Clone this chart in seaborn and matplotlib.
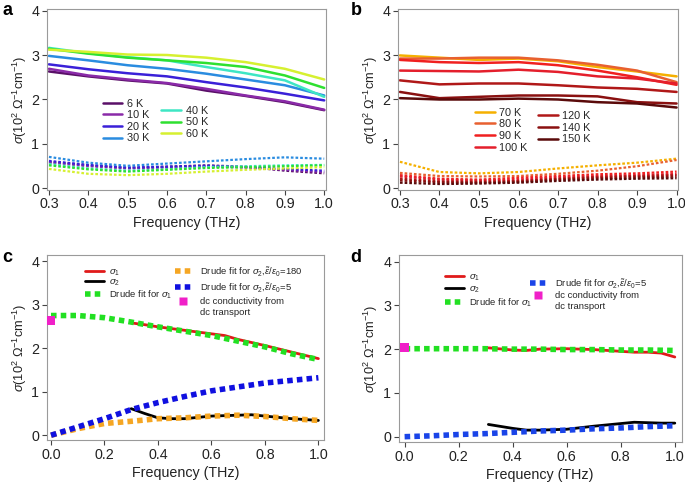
import numpy as np
import pandas as pd
import matplotlib
matplotlib.use('Agg')
import matplotlib.pyplot as plt
from matplotlib.lines import Line2D
import seaborn as sns

# ---------------- data ----------------
freq_ab = [0.3, 0.4, 0.5, 0.6, 0.7, 0.8, 0.9, 1.0]

temps_a = ['6 K', '10 K', '20 K', '30 K', '40 K', '50 K', '60 K']
colors_a = ['#5a1068', '#8a2aa8', '#3a20d8', '#2a8ce0', '#3ee6c4', '#2ee030', '#d6f030']
sig1_a = [
    [2.63, 2.52, 2.43, 2.36, 2.20, 2.08, 1.94, 1.76],
    [2.69, 2.54, 2.45, 2.37, 2.24, 2.09, 1.96, 1.77],
    [2.79, 2.68, 2.59, 2.52, 2.39, 2.27, 2.13, 1.98],
    [2.98, 2.88, 2.77, 2.69, 2.58, 2.45, 2.32, 2.09],
    [3.16, 3.04, 2.95, 2.88, 2.73, 2.59, 2.43, 2.06],
    [3.14, 3.03, 2.94, 2.88, 2.82, 2.73, 2.54, 2.26],
    [3.12, 3.07, 3.01, 3.00, 2.94, 2.84, 2.69, 2.45],
]
sig2_a = [
    [0.60, 0.52, 0.46, 0.49, 0.52, 0.49, 0.40, 0.34],
    [0.58, 0.50, 0.45, 0.47, 0.50, 0.47, 0.42, 0.37],
    [0.62, 0.53, 0.47, 0.49, 0.51, 0.48, 0.44, 0.40],
    [0.71, 0.58, 0.51, 0.56, 0.61, 0.66, 0.70, 0.67],
    [0.55, 0.45, 0.40, 0.43, 0.48, 0.50, 0.52, 0.53],
    [0.52, 0.43, 0.38, 0.42, 0.46, 0.48, 0.50, 0.52],
    [0.44, 0.33, 0.30, 0.33, 0.38, 0.42, 0.45, 0.48],
]

temps_b = ['70 K', '80 K', '90 K', '100 K', '120 K', '140 K', '150 K']
colors_b = ['#f5b000', '#e86030', '#f02020', '#e41f2c', '#b01818', '#8a1010', '#5a0a0a']
sig1_b = [
    [2.99, 2.94, 2.89, 2.92, 2.86, 2.73, 2.63, 2.52],
    [2.92, 2.92, 2.94, 2.94, 2.88, 2.78, 2.65, 2.39],
    [2.89, 2.84, 2.82, 2.84, 2.77, 2.65, 2.50, 2.33],
    [2.65, 2.64, 2.63, 2.67, 2.62, 2.52, 2.47, 2.36],
    [2.43, 2.34, 2.36, 2.36, 2.32, 2.27, 2.24, 2.17],
    [2.17, 2.03, 2.06, 2.09, 2.09, 2.07, 1.94, 1.91],
    [2.03, 2.00, 2.00, 2.02, 2.00, 1.94, 1.91, 1.82],
]
sig2_b = [
    [0.60, 0.37, 0.34, 0.37, 0.45, 0.52, 0.58, 0.67],
    [0.35, 0.28, 0.27, 0.28, 0.33, 0.40, 0.50, 0.64],
    [0.30, 0.22, 0.20, 0.24, 0.28, 0.32, 0.34, 0.38],
    [0.27, 0.20, 0.18, 0.20, 0.25, 0.28, 0.30, 0.33],
    [0.22, 0.16, 0.15, 0.17, 0.22, 0.26, 0.28, 0.30],
    [0.18, 0.14, 0.13, 0.15, 0.20, 0.23, 0.25, 0.27],
    [0.13, 0.10, 0.11, 0.13, 0.17, 0.20, 0.22, 0.23],
]

# panel c
freq_fit = [0.0, 0.1, 0.2, 0.3, 0.4, 0.5, 0.6, 0.7, 0.8, 0.9, 1.0]
freq_c = [0.3, 0.35, 0.4, 0.45, 0.5, 0.6, 0.65, 0.7, 0.75, 0.8, 0.9, 1.0]
sig1_c = [2.58, 2.54, 2.49, 2.45, 2.41, 2.33, 2.29, 2.20, 2.13, 2.06, 1.91, 1.76]
sig2_c = [0.61, 0.50, 0.40, 0.38, 0.38, 0.44, 0.45, 0.46, 0.47, 0.44, 0.38, 0.34]
drude1_c = [2.75, 2.75, 2.70, 2.60, 2.49, 2.39, 2.29, 2.16, 2.03, 1.87, 1.74]
drude2_c_180 = [0.0, 0.15, 0.27, 0.32, 0.38, 0.40, 0.44, 0.46, 0.43, 0.38, 0.34]
drude2_c_5 = [0.0, 0.19, 0.38, 0.59, 0.75, 0.89, 1.02, 1.11, 1.20, 1.26, 1.32]
dc_c = 2.63

# panel d
freq_d = [0.31, 0.4, 0.45, 0.5, 0.6, 0.7, 0.8, 0.85, 0.9, 0.95, 1.0]
sig1_d = [2.03, 1.98, 1.97, 2.00, 2.01, 1.99, 1.95, 1.93, 1.93, 1.91, 1.82]
sig2_d = [0.28, 0.19, 0.15, 0.15, 0.17, 0.24, 0.30, 0.33, 0.32, 0.31, 0.31]
drude1_d = [2.01, 2.01, 2.01, 2.01, 2.00, 2.00, 1.99, 1.99, 1.98, 1.98, 1.97]
drude2_d_5 = [0.0, 0.02, 0.05, 0.07, 0.10, 0.13, 0.15, 0.18, 0.20, 0.23, 0.25]
dc_d = 2.04

# ---------------- style ----------------
sns.set_theme(style='white')
plt.rcParams['font.family'] = ['Liberation Sans', 'DejaVu Sans']
plt.rcParams['mathtext.fontset'] = 'custom'
plt.rcParams['mathtext.rm'] = 'Liberation Sans'
plt.rcParams['mathtext.it'] = 'Liberation Sans:italic'
plt.rcParams['mathtext.bf'] = 'Liberation Sans:bold'

YLABEL = r'$\sigma$(10$^2$ $\Omega^{-1}$cm$^{-1}$)'
TICK_FS = 10.3
YLAB_FS = 9.2
LEG_AB_FS = 7.8
LEG_CD_FS = 6.8
DOT_THIN = (0, (1.2, 0.9))
DOT_FAT = (0, (1.0, 0.75))


def long_frame(freq, names, rows):
    recs = []
    for name, vals in zip(names, rows):
        for f, v in zip(freq, vals):
            recs.append({'f': f, 's': v, 'T': name})
    return pd.DataFrame(recs)


def style_axes(ax, xlim, ylim, xticks, xfmt):
    ax.set_xlim(*xlim)
    ax.set_ylim(*ylim)
    ax.set_xticks(xticks)
    ax.set_xticklabels([xfmt.format(t) for t in xticks])
    ax.set_yticks([0, 1, 2, 3, 4])
    ax.tick_params(direction='out', length=3.5, width=0.8, color='#444444',
                   labelsize=TICK_FS, pad=2, left=True, bottom=True, labelcolor='#222222')
    for sp in ax.spines.values():
        sp.set_color('#9a9a9a')
        sp.set_linewidth(0.8)
    ax.set_xlabel('Frequency (THz)', fontsize=TICK_FS, color='#222222', labelpad=3)
    ax.set_ylabel(YLABEL, fontsize=YLAB_FS, color='#222222', labelpad=2)


def temp_panel(ax, names, colors, s1, s2, legend_pos):
    pal = dict(zip(names, colors))
    d1 = long_frame(freq_ab, names, s1)
    d2 = long_frame(freq_ab, names, s2)
    sns.lineplot(data=d1, x='f', y='s', hue='T', palette=pal, estimator=None,
                 sort=False, legend=False, lw=1.8, ax=ax)
    sns.lineplot(data=d2, x='f', y='s', hue='T', palette=pal, estimator=None,
                 sort=False, legend=False, lw=1.6, linestyle=DOT_THIN, ax=ax)
    handles = [Line2D([], [], color=c, lw=1.8) for c in colors]
    (x1, y1), (x2, y2) = legend_pos
    opts = dict(loc='upper left', frameon=False, fontsize=LEG_AB_FS, handlelength=1.8,
                handletextpad=0.45, labelspacing=0.15, borderpad=0, borderaxespad=0)
    leg1 = ax.legend(handles[:4], names[:4], bbox_to_anchor=(x1, y1), **opts)
    ax.add_artist(leg1)
    ax.legend(handles[4:], names[4:], bbox_to_anchor=(x2, y2), **opts)
    style_axes(ax, (0.295, 1.004), (-0.03, 4.03),
               [0.3, 0.4, 0.5, 0.6, 0.7, 0.8, 0.9, 1.0], '{:.1f}')


fig = plt.figure(figsize=(6.85, 4.83), dpi=100)
ax_a = fig.add_axes([0.0686, 0.607, 0.407, 0.374])
ax_b = fig.add_axes([0.581, 0.607, 0.409, 0.374])
ax_c = fig.add_axes([0.0686, 0.089, 0.404, 0.383])
ax_d = fig.add_axes([0.582, 0.085, 0.413, 0.387])

temp_panel(ax_a, temps_a, colors_a, sig1_a, sig2_a, ((0.20, 0.505), (0.41, 0.465)))
temp_panel(ax_b, temps_b, colors_b, sig1_b, sig2_b, ((0.275, 0.455), (0.50, 0.435)))

# ---------------- panel c ----------------
ax = ax_c
sns.lineplot(x=freq_c, y=sig1_c, color='#e01a1a', lw=2.0, ax=ax)
sns.lineplot(x=freq_c, y=sig2_c, color='black', lw=2.0, ax=ax)
sns.lineplot(x=freq_fit, y=drude2_c_180, color='#f5a623', lw=4.0, linestyle=DOT_FAT, ax=ax)
sns.lineplot(x=freq_fit, y=drude2_c_5, color='#1010e0', lw=4.0, linestyle=DOT_FAT, ax=ax)
sns.lineplot(x=freq_fit, y=drude1_c, color='#22e022', lw=4.0, linestyle=DOT_FAT, ax=ax)
sns.scatterplot(x=[0.0], y=[dc_c], color='#f020c8', marker='s', s=40, ec='none',
                zorder=5, clip_on=False, ax=ax)
style_axes(ax, (-0.015, 1.02), (-0.11, 4.14), [0.0, 0.2, 0.4, 0.6, 0.8, 1.0], '{:.1f}')

# ---------------- panel d ----------------
ax = ax_d
sns.lineplot(x=freq_d, y=sig1_d, color='#e01a1a', lw=2.0, ax=ax)
sns.lineplot(x=freq_d, y=sig2_d, color='black', lw=2.0, ax=ax)
sns.lineplot(x=freq_fit, y=drude2_d_5, color='#1a44e8', lw=4.0, linestyle=DOT_FAT, ax=ax)
sns.lineplot(x=freq_fit, y=drude1_d, color='#22e022', lw=4.0, linestyle=DOT_FAT, ax=ax)
sns.scatterplot(x=[0.0], y=[dc_d], color='#f020c8', marker='s', s=40, ec='none',
                zorder=5, clip_on=False, ax=ax)
style_axes(ax, (-0.022, 1.025), (-0.12, 4.15), [0.0, 0.2, 0.4, 0.6, 0.8, 1.0], '{:.1f}')

# legends for c and d
h_s1 = Line2D([], [], color='#e01a1a', lw=2.0)
h_s2 = Line2D([], [], color='black', lw=2.0)
h_g = Line2D([], [], color='#22e022', lw=4.0, linestyle=DOT_FAT)
h_o = Line2D([], [], color='#f5a623', lw=4.0, linestyle=DOT_FAT)
h_b = Line2D([], [], color='#1010e0', lw=4.0, linestyle=DOT_FAT)
h_bd = Line2D([], [], color='#1a44e8', lw=4.0, linestyle=DOT_FAT)
h_dc = Line2D([], [], color='#f020c8', marker='s', ms=6, lw=0, mec='none')
h_none = Line2D([], [], lw=0)

lab_s1 = [r'$\sigma_1$', r'$\sigma_2$', r'Drude fit for $\sigma_1$']
lab_180 = r'Drude fit for $\sigma_2$,$\tilde{\varepsilon}/\epsilon_0$=180'
lab_5 = r'Drude fit for $\sigma_2$,$\tilde{\varepsilon}/\epsilon_0$=5'
lab_dc = ['dc conductivity from', 'dc transport']

cd_opts = dict(loc='upper left', frameon=False, fontsize=LEG_CD_FS,
               borderpad=0, borderaxespad=0)
for ax, pos_l, sp_l, pos_r, fit_h, fit_l, sp_r, pos_dc in [
        (ax_c, (0.137, 0.935), 0.0, (0.462, 0.945), [h_o, h_b], [lab_180, lab_5], 0.35,
         (0.462, 0.772)),
        (ax_d, (0.163, 0.905), 0.15, (0.463, 0.88), [h_bd], [lab_5], 0.5,
         (0.463, 0.805))]:
    l1 = ax.legend([h_s1, h_s2, h_g], lab_s1, bbox_to_anchor=pos_l, handlelength=2.0,
                   handletextpad=0.6, labelspacing=sp_l, **cd_opts)
    ax.add_artist(l1)
    l2 = ax.legend(fit_h, fit_l, bbox_to_anchor=pos_r, handlelength=1.8,
                   handletextpad=0.9, labelspacing=sp_r, **cd_opts)
    ax.add_artist(l2)
    ax.legend([h_dc, h_none], lab_dc, bbox_to_anchor=pos_dc, handlelength=1.8,
              handletextpad=0.9, labelspacing=0.2, **cd_opts)

# panel letters
for x, y, s in [(0.004, 0.995, 'a'), (0.512, 0.995, 'b'), (0.004, 0.485, 'c'), (0.512, 0.485, 'd')]:
    fig.text(x, y, s, fontsize=13, fontweight='bold', va='top', ha='left', color='black')

fig.savefig('out.png', dpi=100)
